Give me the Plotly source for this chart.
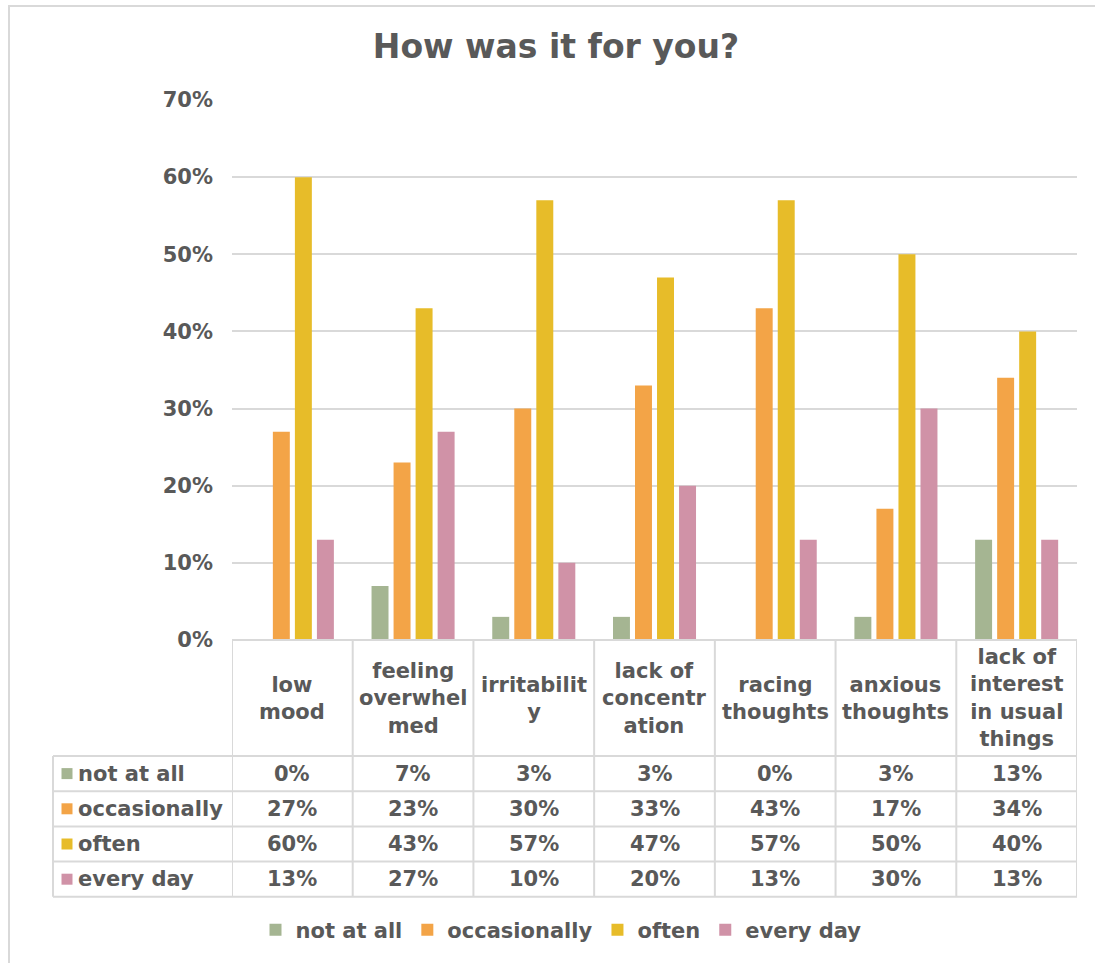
import plotly.graph_objects as go

categories = ["low mood", "feeling overwhelmed", "irritability", "lack of concentration",
              "racing thoughts", "anxious thoughts", "lack of interest in usual things"]
header_labels = ["low<br>mood", "feeling<br>overwhel<br>med", "irritabilit<br>y",
                 "lack of<br>concentr<br>ation", "racing<br>thoughts", "anxious<br>thoughts",
                 "lack of<br>interest<br>in usual<br>things"]
series_names = ["not at all", "occasionally", "often", "every day"]
not_at_all = [0, 7, 3, 3, 0, 3, 13]
occasionally = [27, 23, 30, 33, 43, 17, 34]
often = [60, 43, 57, 47, 57, 50, 40]
every_day = [13, 27, 10, 20, 13, 30, 13]
colors = ["#A5B592", "#F3A447", "#E7BC29", "#D092A7"]
y_ticks = [0, 10, 20, 30, 40, 50, 60, 70]

series_values = [not_at_all, occasionally, often, every_day]

W, H = 1095, 963
L, R, T, B = 232, 18, 100, 323
PW, PH = W - L - R, H - T - B
TXT = "#595959"
GRID = "#D9D9D9"
FONT = "DejaVu Sans"


def px_x(p):
    return (p - L) / PW


def px_y(p):
    return (H - B - p) / PH


fig = go.Figure()
xs = list(range(len(categories)))
for name, vals, col in zip(series_names, series_values, colors):
    fig.add_trace(go.Bar(
        x=xs, y=[v / 100 for v in vals], name=name,
        marker=dict(color=col, line=dict(width=0)),
    ))

shapes = []
annotations = []

# table geometry (pixels)
header_top, header_bot = 640, 756
row_h = 35.2
row_tops = [header_bot + i * row_h for i in range(len(series_names) + 1)]
left_edge = 53

line = dict(color=GRID, width=2)
# top line along axis
shapes.append(dict(type="line", xref="paper", yref="paper", x0=0, x1=1,
                   y0=px_y(header_top), y1=px_y(header_top), line=line, layer="above"))
# horizontal row lines
for yt in row_tops:
    shapes.append(dict(type="line", xref="paper", yref="paper", x0=px_x(left_edge), x1=1,
                       y0=px_y(yt), y1=px_y(yt), line=line))
# vertical lines for category columns
for i in range(len(categories) + 1):
    shapes.append(dict(type="line", xref="x", yref="paper", x0=i - 0.5, x1=i - 0.5,
                       y0=px_y(header_top), y1=px_y(row_tops[-1]), line=line))
# left edge of the row-label column
shapes.append(dict(type="line", xref="paper", yref="paper", x0=px_x(left_edge), x1=px_x(left_edge),
                   y0=px_y(row_tops[0]), y1=px_y(row_tops[-1]), line=line))

# header labels
for i, lab in enumerate(header_labels):
    annotations.append(dict(x=i, y=px_y((header_top + header_bot) / 2), xref="x", yref="paper",
                            text=lab, showarrow=False, xanchor="center", yanchor="middle",
                            font=dict(family=FONT, size=21, color=TXT, weight="bold")))

# rows
for r, (name, vals, col) in enumerate(zip(series_names, series_values, colors)):
    yc = (row_tops[r] + row_tops[r + 1]) / 2
    shapes.append(dict(type="rect", xref="paper", yref="paper",
                       x0=px_x(61.5), x1=px_x(72.5), y0=px_y(yc - 5.5), y1=px_y(yc + 5.5),
                       fillcolor=col, line=dict(width=0)))
    annotations.append(dict(x=px_x(76), y=px_y(yc), xref="paper", yref="paper",
                            text=name, showarrow=False, xanchor="left", yanchor="middle",
                            font=dict(family=FONT, size=21, color=TXT, weight="bold")))
    for i, v in enumerate(vals):
        annotations.append(dict(x=i, y=px_y(yc), xref="x", yref="paper",
                                text=f"{v}%", showarrow=False, xanchor="center", yanchor="middle",
                                font=dict(family=FONT, size=21, color=TXT, weight="bold")))

# outer chart border
shapes.append(dict(type="rect", xref="paper", yref="paper",
                   x0=px_x(9), x1=px_x(W + 20), y0=px_y(6), y1=px_y(H + 20),
                   line=dict(color=GRID, width=2), fillcolor="rgba(0,0,0,0)"))

fig.update_layout(
    width=W, height=H,
    margin=dict(l=L, r=R, t=T, b=B, autoexpand=False),
    paper_bgcolor="white", plot_bgcolor="white",
    barmode="group", bargap=0.27, bargroupgap=0.23,
    title=dict(text="How was it for you?", x=556 / W, xanchor="center",
               y=1 - 46 / H, yanchor="middle", xref="container", yref="container",
               font=dict(family=FONT, size=33, color=TXT, weight="bold")),
    font=dict(family=FONT, size=21, color=TXT, weight="bold"),
    xaxis=dict(range=[-0.5, len(categories) - 0.5], showticklabels=False, showgrid=False,
               zeroline=False, showline=False, ticks=""),
    yaxis=dict(range=[0, 0.7], tickvals=[t / 100 for t in y_ticks],
               ticktext=[f"{t}%" for t in y_ticks], showgrid=True, gridcolor=GRID, gridwidth=2,
               zeroline=False, showline=False, ticks="", ticklabelstandoff=18,
               tickfont=dict(family=FONT, size=21, color=TXT, weight="bold")),
    legend=dict(orientation="h", x=px_x(561), xanchor="center", y=px_y(930), yanchor="middle",
                font=dict(family=FONT, size=21, color=TXT, weight="bold"),
                itemwidth=30, tracegroupgap=0, bgcolor="rgba(0,0,0,0)"),
    shapes=shapes, annotations=annotations,
    showlegend=True,
)

fig.write_html("out.html")
